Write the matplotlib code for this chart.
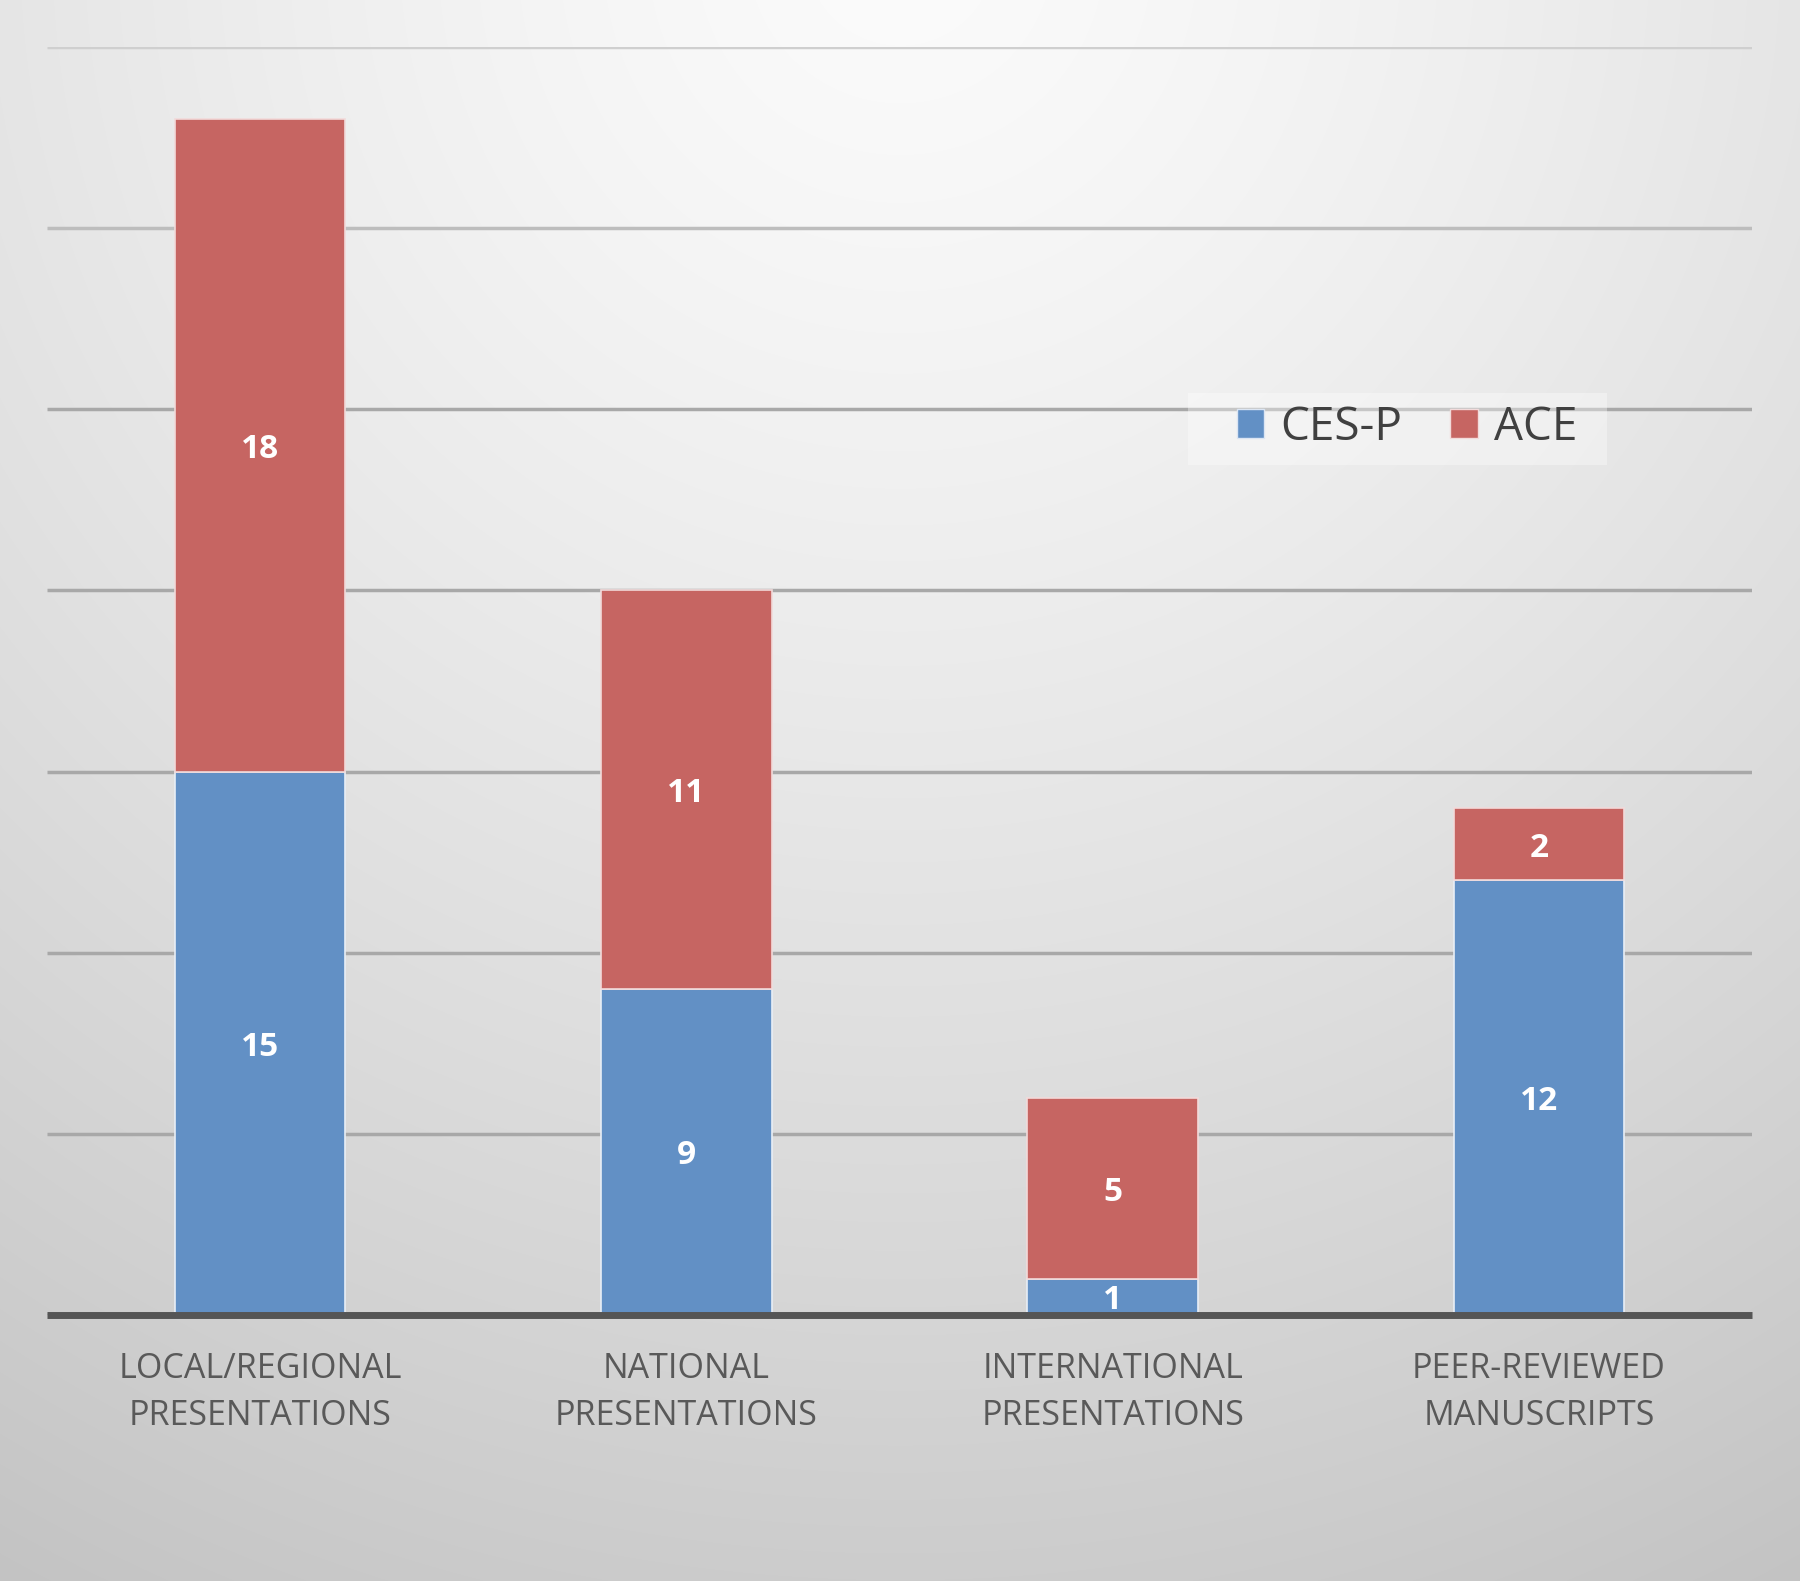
import numpy as np
import matplotlib
matplotlib.use("Agg")
import matplotlib.pyplot as plt
from matplotlib.patches import Patch, Rectangle

categories = ["LOCAL/REGIONAL\nPRESENTATIONS", "NATIONAL\nPRESENTATIONS",
              "INTERNATIONAL\nPRESENTATIONS", "PEER-REVIEWED\nMANUSCRIPTS"]
ces_p = [15, 9, 1, 12]
ace = [18, 11, 5, 2]
series_names = ["CES-P", "ACE"]
colors = ["#6290C5", "#C66562"]

W, H = 1800, 1581
fig = plt.figure(figsize=(W / 100, H / 100), dpi=100)

# radial gradient background
bg = fig.add_axes([0, 0, 1, 1], zorder=0)
yy, xx = np.mgrid[0:H, 0:W]
cx, cy = W * 0.5, -50
r = np.sqrt((xx - cx) ** 2 + (yy - cy) ** 2)
r = r / r.max()
val = 0.985 - 0.22 * r ** 1.3
img = np.dstack([val, val, val])
bg.imshow(img, extent=[0, 1, 0, 1], aspect="auto", origin="upper")
bg.axis("off")

ax = fig.add_axes([47 / W, 1 - 1315 / H, (1752 - 47) / W, (1315 - 47) / H], zorder=1)
ax.patch.set_alpha(0)
x = np.arange(len(categories))
width = 0.40
ax.bar(x, ces_p, width, color=colors[0], edgecolor="#e8eef6", linewidth=1.2, zorder=3)
ax.bar(x, ace, width, bottom=ces_p, color=colors[1], edgecolor="#f2dada", linewidth=1.2, zorder=3)

for i in range(len(categories)):
    ax.text(x[i], ces_p[i] / 2, str(ces_p[i]), ha="center", va="center_baseline",
            color="white", fontsize=24, fontweight="bold", family="Open Sans", zorder=4)
    ax.text(x[i], ces_p[i] + ace[i] / 2, str(ace[i]), ha="center", va="center_baseline",
            color="white", fontsize=24, fontweight="bold", family="Open Sans", zorder=4)

ax.set_xlim(-0.5, 3.5)
ax.set_ylim(0, 35)
ax.set_yticks(np.arange(0, 36, 5))
ax.yaxis.grid(True, color="#a8a8a8", linewidth=2.5, zorder=1)
gl = ax.get_ygridlines()
gl[-1].set_color("#cfcfcf")
gl[-2].set_color("#bdbdbd")
for g in gl:
    g.set_solid_capstyle("butt")
ax.set_axisbelow(True)
ax.tick_params(axis="y", left=False, labelleft=False)
ax.tick_params(axis="x", bottom=False, pad=23)
ax.set_xticks(x)
ax.set_xticklabels(categories, fontsize=24.5, color="#595959", family="Open Sans", linespacing=1.5)
for s in ["top", "right", "left"]:
    ax.spines[s].set_visible(False)
ax.spines["bottom"].set_color("#555555")
ax.spines["bottom"].set_linewidth(5)
ax.spines["bottom"].set_capstyle("butt")
ax.spines["bottom"].set_zorder(5)

# legend backing panel
fig.patches.append(Rectangle((1188 / W, 1 - 465 / H), (1607 - 1188) / W, (465 - 393) / H,
                             transform=fig.transFigure, facecolor="white", alpha=0.35,
                             edgecolor="none", zorder=2))

handles = [Patch(facecolor=colors[0], edgecolor="#dbe5f3"), Patch(facecolor=colors[1], edgecolor="#f2dada")]
leg = fig.legend(handles, series_names, loc="center", bbox_to_anchor=(1407 / W, 1 - 428 / H),
                 ncol=2, frameon=False, handlelength=0.6, handleheight=0.6,
                 handletextpad=0.35, columnspacing=1.05, borderpad=0.35, borderaxespad=0,
                 prop={"family": "Open Sans", "size": 33})
leg.set_zorder(3)
for t in leg.get_texts():
    t.set_color("#404040")

fig.savefig("out.png", dpi=100)
